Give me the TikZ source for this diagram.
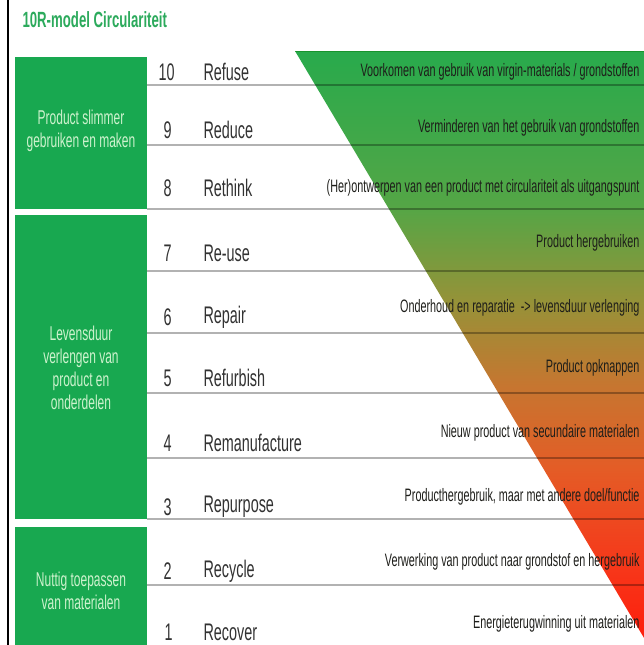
\documentclass[tikz,border=0pt]{standalone}
\usepackage{fontspec}
\setmainfont{Liberation Sans}[FakeStretch=0.6]
\usetikzlibrary{calc}

\definecolor{boxgreen}{RGB}{24,168,80}
\definecolor{boxtext}{RGB}{205,242,205}
\definecolor{titlegreen}{RGB}{44,170,92}
\definecolor{rowtext}{RGB}{50,50,50}
\definecolor{desctext}{RGB}{30,30,26}
\definecolor{gRed}{RGB}{255,26,10}
\definecolor{gRedOr}{RGB}{246,56,26}
\definecolor{gOrange}{RGB}{228,92,38}
\definecolor{gAmber}{RGB}{198,118,48}
\definecolor{gOlive}{RGB}{150,146,56}
\definecolor{gLime}{RGB}{84,166,70}
\definecolor{gGreen}{RGB}{40,170,76}

\pgfdeclareverticalshading{tenr}{100bp}{color(0bp)=(gRed); color(25bp)=(gRed);
  color(32bp)=(gRedOr); color(40bp)=(gOrange); color(47bp)=(gAmber);
  color(54bp)=(gOlive); color(62bp)=(gLime); color(75bp)=(gGreen); color(100bp)=(gGreen)}

\tikzset{
  groupbox/.style={fill=boxgreen},
  grouptext/.style={text=boxtext, align=center, font=\fontsize{20}{23}\selectfont},
  rnum/.style={anchor=west, text=rowtext, font=\fontsize{24}{26}\selectfont},
  rname/.style={anchor=west, text=rowtext, font=\fontsize{24}{26}\selectfont},
  rdesc/.style={anchor=east, text=desctext, font=\fontsize{18}{20}\selectfont},
  rowline/.style={draw=black, opacity=0.3, line width=1.3pt}
}

\begin{document}
\begin{tikzpicture}[x=1pt, y=-1pt]
    \useasboundingbox (0,0) rectangle (644,645);
    % Border.
    \draw[line width=1.4pt] (8,0) -- (8,645);
    % Title.
    \node[anchor=west, text=titlegreen, font=\fontsize{22}{24}\selectfont\bfseries] (title) at (19,20) {10R-model Circulariteit};
    % Gradient wedge.
    \path[shading=tenr] (295,51) -- (650,51) -- (650,648) -- cycle;
    \draw[green!45!black, opacity=0.4, line width=0.8pt] (295,51) -- (644,51);
    % Row lines.
    \foreach \y in {85,145,209,271,333,393,458,519,585}
      \draw[rowline] (147,\y) -- (644,\y);
    % Group boxes.
    \fill[groupbox] (15,57) rectangle (147,209);
    \fill[groupbox] (15,215) rectangle (147,519);
    \fill[groupbox] (15,527) rectangle (147,648);
    \node[grouptext] (grp1) at (81,131) {Product slimmer\\gebruiken en maken};
    \node[grouptext] (grp2) at (81,368) {Levensduur\\verlengen van\\product en\\onderdelen};
    \node[grouptext] (grp3) at (81,591) {Nuttig toepassen\\van materialen};
    % Rows.
    \foreach \n/\nx/\y/\name/\dy/\desc in {
      10/155/72/Refuse/72/{Voorkomen van gebruik van virgin-materials / grondstoffen},
      9/160/130/Reduce/128/{Verminderen van het gebruik van grondstoffen},
      8/160/188/Rethink/188/{(Her)ontwerpen van een product met circulariteit als uitgangspunt},
      7/160/253/Re-use/243/{Product hergebruiken},
      6/160/317/Repair/308/{Onderhoud en reparatie \ -> levensduur verlenging},
      5/160/378/Refurbish/368/{Product opknappen},
      4/160/443/Remanufacture/433/{Nieuw product van secundaire materialen},
      3/160/507/Repurpose/497/{Producthergebruik, maar met andere doel/functie},
      2/160/571/Recycle/562/{Verwerking van product naar grondstof en hergebruik},
      1/161/632/Recover/624/{Energieterugwinning uit materialen}}
    {
      \node[rnum] (num\n) at (\nx,\y) {\n};
      \node[rname] (name\n) at (200,\y) {\name};
      \node[rdesc] (desc\n) at (643,\dy) {\desc};
    }
\end{tikzpicture}
\end{document}
